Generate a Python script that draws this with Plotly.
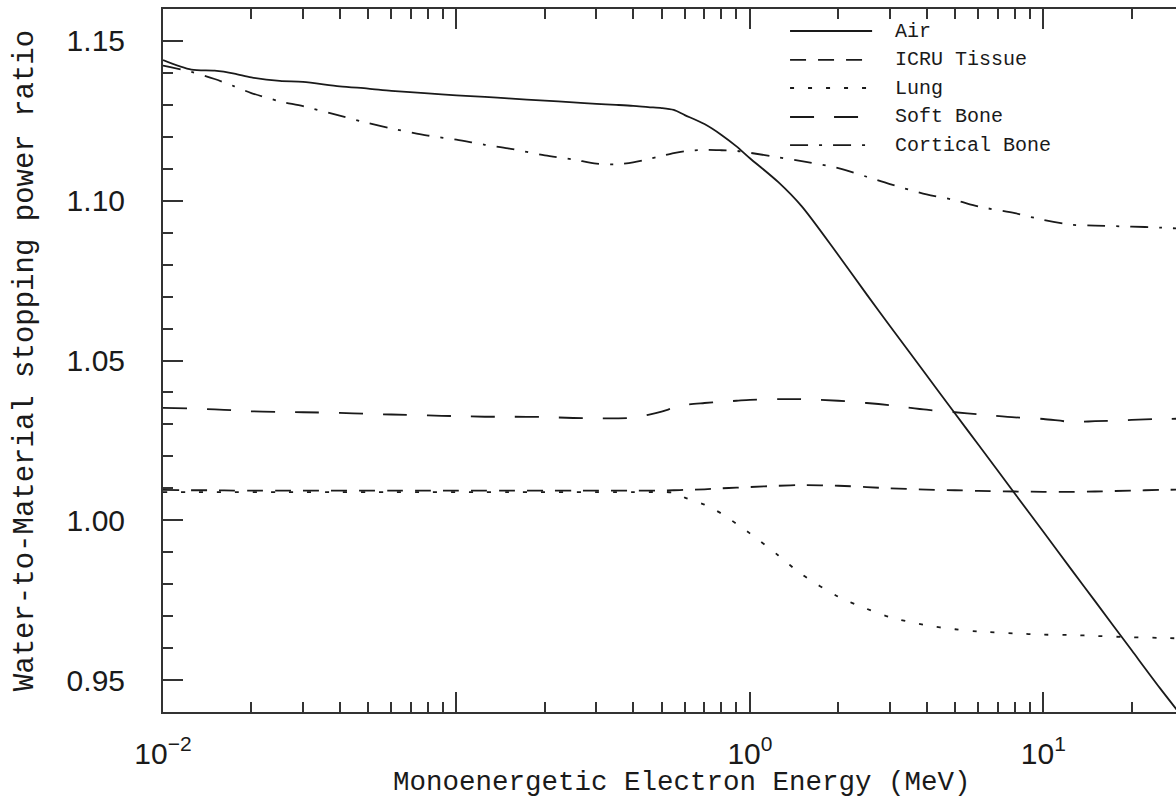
import plotly.graph_objects as go

# ---------------- data ----------------
energy_mev = [0.01, 0.0125, 0.015, 0.0175, 0.02, 0.025, 0.03, 0.04, 0.05, 0.06,
              0.08, 0.1, 0.125, 0.15, 0.2, 0.25, 0.3, 0.35, 0.4, 0.45,
              0.5, 0.55, 0.6, 0.7, 0.8, 0.9, 1.0, 1.25, 1.5, 2.0,
              2.5, 3.0, 4.0, 5.0, 6.0, 8.0, 10.0, 12.5, 15.0, 20.0,
              25.0, 30.0]

air = [1.1440, 1.1410, 1.1407, 1.1398, 1.1386, 1.1375, 1.1372, 1.1358, 1.1351, 1.1344,
       1.1336, 1.1330, 1.1325, 1.1320, 1.1313, 1.1308, 1.1303, 1.1300, 1.1297, 1.1293,
       1.1290, 1.1284, 1.1268, 1.1240, 1.1206, 1.1170, 1.1133, 1.1058, 1.0983, 1.0830,
       1.0707, 1.0608, 1.0454, 1.0334, 1.0237, 1.0083, 0.9964, 0.9844, 0.9747, 0.9593,
       0.9474, 0.9381]

icru_tissue = [1.0095, 1.0094, 1.0094, 1.0093, 1.0093, 1.0093, 1.0093, 1.0093, 1.0093, 1.0093,
               1.0093, 1.0093, 1.0093, 1.0093, 1.0093, 1.0093, 1.0093, 1.0093, 1.0093, 1.0093,
               1.0093, 1.0094, 1.0095, 1.0097, 1.0100, 1.0102, 1.0104, 1.0108, 1.0110, 1.0108,
               1.0104, 1.0100, 1.0096, 1.0094, 1.0092, 1.0090, 1.0089, 1.0089, 1.0090, 1.0093,
               1.0095, 1.0096]

lung = [1.0088, 1.0088, 1.0088, 1.0088, 1.0088, 1.0088, 1.0088, 1.0088, 1.0088, 1.0088,
        1.0088, 1.0088, 1.0088, 1.0088, 1.0088, 1.0088, 1.0088, 1.0088, 1.0088, 1.0088,
        1.0089, 1.0086, 1.0071, 1.0049, 1.0021, 0.9989, 0.9959, 0.9890, 0.9831, 0.9761,
        0.9723, 0.9697, 0.9671, 0.9659, 0.9652, 0.9646, 0.9642, 0.9641, 0.9638, 0.9634,
        0.9632, 0.9630]

soft_bone = [1.0352, 1.0350, 1.0347, 1.0344, 1.0341, 1.0339, 1.0338, 1.0336, 1.0333, 1.0331,
             1.0328, 1.0326, 1.0324, 1.0324, 1.0323, 1.0320, 1.0319, 1.0319, 1.0321, 1.0330,
             1.0340, 1.0352, 1.0361, 1.0367, 1.0371, 1.0374, 1.0377, 1.0379, 1.0379, 1.0374,
             1.0367, 1.0360, 1.0346, 1.0338, 1.0332, 1.0322, 1.0317, 1.0308, 1.0310, 1.0314,
             1.0317, 1.0318]

cortical_bone = [1.1423, 1.1403, 1.1381, 1.1358, 1.1337, 1.1311, 1.1296, 1.1266, 1.1243, 1.1226,
                 1.1204, 1.1191, 1.1175, 1.1164, 1.1142, 1.1129, 1.1116, 1.1114, 1.1120, 1.1130,
                 1.1140, 1.1149, 1.1155, 1.1159, 1.1158, 1.1156, 1.1150, 1.1136, 1.1124, 1.1102,
                 1.1075, 1.1052, 1.1020, 1.1002, 1.0982, 1.0961, 1.0940, 1.0925, 1.0922, 1.0919,
                 1.0916, 1.0912]

series_names = ["Air", "ICRU Tissue", "Lung", "Soft Bone", "Cortical Bone"]
series_values = [air, icru_tissue, lung, soft_bone, cortical_bone]

x_major_vals = [0.01, 0.1, 1, 10]
x_major_text = ["10<sup>\u22122</sup>", " ", "10<sup>0</sup>", "10<sup>1</sup>"]
x_minor_vals = [0.02, 0.03, 0.04, 0.05, 0.06, 0.07, 0.08, 0.09,
                0.2, 0.3, 0.4, 0.5, 0.6, 0.7, 0.8, 0.9,
                2, 3, 4, 5, 6, 7, 8, 9, 20]
y_major_vals = [0.95, 1.00, 1.05, 1.10, 1.15]
y_major_text = ["0.95", "1.00", "1.05", "1.10", "1.15"]

x_title = "Monoenergetic Electron Energy (MeV)"
y_title = "Water-to-Material stopping power ratio"

# ---------------- styling ----------------
dash_styles = ["solid", "16px,12px", "4px,14px", "24px,20px", "18px,11px,3px,11px"]
ink = "#1a1a1a"
axis_ink = "#333333"
mono = "Liberation Mono, Courier New, monospace"
sans = "Liberation Sans, Arial, sans-serif"

fig = go.Figure()
for name, vals, dash in zip(series_names, series_values, dash_styles):
    fig.add_trace(go.Scatter(
        x=energy_mev, y=vals, name=name, mode="lines",
        line=dict(color=ink, width=1.8, dash=dash, shape="spline", smoothing=0.8),
        showlegend=False,
    ))

# hand-built legend (long line samples as in the reference)
leg_x0, leg_x1, leg_tx = 0.619, 0.700, 0.7206
leg_rows = [0.9687, 0.9275, 0.8876, 0.8464, 0.8065]
for name, dash, yy in zip(series_names, dash_styles, leg_rows):
    fig.add_shape(type="line", xref="paper", yref="paper",
                  x0=leg_x0, x1=leg_x1, y0=yy, y1=yy,
                  line=dict(color=ink, width=1.8, dash=dash))
    fig.add_annotation(xref="paper", yref="paper", x=leg_tx, y=yy,
                       text=name, showarrow=False, xanchor="left", yanchor="middle",
                       font=dict(family=mono, size=20, color=ink))

# x-axis title placed as in the reference (centred under the full original frame)
fig.add_annotation(xref="paper", yref="paper", x=0.5125, y=-0.1005,
                   text=x_title, showarrow=False, xanchor="center", yanchor="middle",
                   font=dict(family=mono, size=27.5, color=ink))

fig.update_layout(
    width=1176, height=808,
    margin=dict(l=163, r=0, t=9, b=96),
    paper_bgcolor="white", plot_bgcolor="white",
    showlegend=False,
)

fig.update_xaxes(
    type="log", range=[-2, 1.452],
    tickmode="array", tickvals=x_major_vals, ticktext=x_major_text,
    ticks="inside", ticklen=20, tickwidth=1.5, tickcolor=axis_ink,
    minor=dict(tickmode="array", tickvals=x_minor_vals, ticks="inside",
               ticklen=10, tickwidth=1.5, tickcolor=axis_ink, showgrid=False),
    showline=True, linewidth=2, linecolor=axis_ink, mirror="ticks",
    showgrid=False, zeroline=False,
    tickfont=dict(family=sans, size=30, color=ink),
    ticklabelstandoff=14,
)

fig.update_yaxes(
    range=[0.94, 1.16],
    tickmode="array", tickvals=y_major_vals, ticktext=y_major_text,
    ticks="inside", ticklen=20, tickwidth=1.5, tickcolor=axis_ink,
    minor=dict(tick0=0.94, dtick=0.01, ticks="inside", ticklen=10,
               tickwidth=1.5, tickcolor=axis_ink, showgrid=False),
    showline=True, linewidth=2, linecolor=axis_ink, mirror=False,
    showgrid=False, zeroline=False,
    tickfont=dict(family=sans, size=30, color=ink),
    ticklabelstandoff=30,
    title=dict(text=y_title, font=dict(family=mono, size=29, color=ink), standoff=24),
)

fig.write_html("out.html")
